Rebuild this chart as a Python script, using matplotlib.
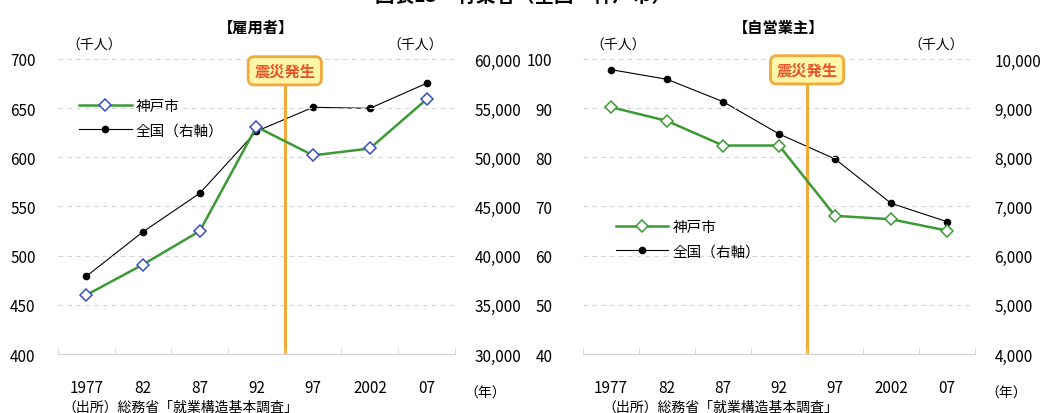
import matplotlib.pyplot as plt
from matplotlib.lines import Line2D

plt.rcParams["font.family"] = ["Noto Sans CJK JP", "DejaVu Sans"]

years = ["1977", "82", "87", "92", "97", "2002", "07"]

# 雇用者（千人）
kobe_emp = [460, 491, 525, 631, 602, 609, 659]
japan_emp = [37900, 42430, 46340, 52650, 55090, 54980, 57530]

# 自営業主（千人）
kobe_self = [90.2, 87.4, 82.4, 82.4, 68.1, 67.4, 65.1]
japan_self = [9783, 9587, 9132, 8475, 7966, 7065, 6691]

GREEN = "#3c9a35"
ORANGE = "#f2a93b"
GRID = "#d4d4d4"

fig = plt.figure(figsize=(10.46, 4.14), dpi=100)


def panel(rect, kobe, japan, ylim, ylim2, yticks, yticks2, marker_edge,
          subtitle, legend_pos, box_y, lpad, src_x):
    ax = fig.add_axes(rect)
    ax2 = ax.twinx()
    x = list(range(len(years)))

    ax.set_xlim(-0.5, len(years) - 0.5)
    ax.set_ylim(*ylim)
    ax2.set_ylim(*ylim2)
    ax.set_yticks(yticks)
    ax.set_yticklabels([f"{v:g}" for v in yticks])
    ax2.set_yticks(yticks2)
    ax2.set_yticklabels([f"{v:,}" for v in yticks2])

    for v in yticks[1:]:
        ax.axhline(v, color=GRID, lw=0.8, ls=(0, (4, 4)), zorder=0)

    ax.set_xticks(x)
    ax.set_xticklabels(years)
    ax.set_xticks([i - 0.5 for i in range(len(years) + 1)], minor=True)
    ax.tick_params(axis="x", which="major", length=0, pad=18, labelsize=11)
    ax.tick_params(axis="x", which="minor", length=4, color=GRID, direction="in")
    ax.tick_params(axis="y", length=0, pad=lpad, labelsize=11)
    ax2.tick_params(axis="y", length=0, pad=14, labelsize=11)
    for a in (ax, ax2):
        for s in ("top", "left", "right", "bottom"):
            a.spines[s].set_visible(False)
    ax.spines["bottom"].set_visible(True)
    ax.spines["bottom"].set_color(GRID)

    # 震災発生 (1995) の縦線
    ax.axvline(3.5, ymax=(box_y - ylim[0]) / (ylim[1] - ylim[0]),
               color=ORANGE, lw=2.2, zorder=1)
    ax.text(3.5, box_y, "震災発生", ha="center", va="center", fontsize=11,
            color="#e8552a", fontweight="bold", zorder=5,
            bbox=dict(boxstyle="round,pad=0.4", fc="#fff7a8", ec=ORANGE, lw=2))

    ax2.plot(x, japan, color="black", lw=0.8, marker="o", ms=4.5, zorder=3)
    ax.plot(x, kobe, color=GREEN, lw=1.8, marker="D", ms=6,
            mfc="white", mec=marker_edge, mew=1.1, zorder=4)
    ax.set_zorder(ax2.get_zorder() + 1)
    ax.patch.set_visible(False)

    handles = [
        Line2D([], [], color=GREEN, lw=1.8, marker="D", ms=6, mfc="white",
               mec=marker_edge, mew=1.1),
        Line2D([], [], color="black", lw=0.8, marker="o", ms=4.5),
    ]
    ax.legend(handles, ["神戸市", "全国（右軸）"], loc="upper left",
              bbox_to_anchor=legend_pos, frameon=False, fontsize=10.5,
              handlelength=3.6, handletextpad=0.3, labelspacing=0.75)

    ax.text(0.5, 1.11, subtitle, transform=ax.transAxes, ha="center",
            va="center", fontsize=11, fontweight="bold")
    ax.text(0.09, 1.05, "（千人）", transform=ax.transAxes, ha="center",
            va="center", fontsize=10)
    ax.text(0.90, 1.05, "（千人）", transform=ax.transAxes, ha="center",
            va="center", fontsize=10)
    ax.text(1.025, -0.13, "（年）", transform=ax.transAxes, ha="left",
            va="center", fontsize=10)
    ax.text(src_x, -0.18, "（出所）総務省「就業構造基本調査」",
            transform=ax.transAxes, ha="left", va="center", fontsize=10)
    return ax


panel([0.0554, 0.1425, 0.3795, 0.7126], kobe_emp, japan_emp,
      (400, 700), (30000, 60000), list(range(400, 701, 50)),
      list(range(30000, 60001, 5000)), "#3b4cc0", "【雇用者】",
      (0.02, 0.91), 688, 16, 0.01)

panel([0.5574, 0.1425, 0.3748, 0.7126], kobe_self, japan_self,
      (40, 100), (4000, 10000), list(range(40, 101, 10)),
      list(range(4000, 10001, 1000)), GREEN, "【自営業主】",
      (0.05, 0.50), 97.8, 22, 0.05)

fig.text(0.5, 0.985, "図表13　有業者（全国・神戸市）", ha="center",
         va="bottom", fontsize=14, fontweight="bold")

fig.savefig("out.png", dpi=100)
